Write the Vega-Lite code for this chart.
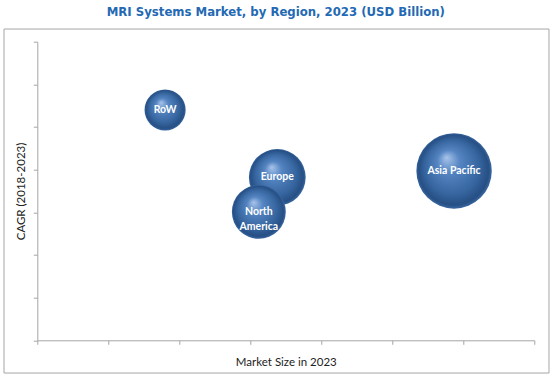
{
  "$schema": "https://vega.github.io/schema/vega-lite/v6.json",
  "width": 497,
  "height": 298.6,
  "autosize": {"type": "none"},
  "padding": {"left": 37.3, "top": 41.7, "right": 18.7, "bottom": 38.7},
  "background": "white",
  "title": {
    "text": "MRI Systems Market, by Region, 2023 (USD Billion)",
    "font": "DejaVu Sans Condensed, Roboto, sans-serif",
    "fontSize": 13,
    "fontWeight": "bold",
    "color": "#2369b3",
    "anchor": "middle",
    "dx": -10,
    "offset": 10
  },
  "config": {"view": {"stroke": null}},
  "data": {
    "values": [
      {"region": "RoW", "market": 1.80, "cagr": 5.40, "value": 1.385},
      {"region": "Europe", "market": 3.38, "cagr": 3.82, "value": 2.64},
      {"region": "North\nAmerica", "market": 3.12, "cagr": 3.01, "value": 2.38},
      {"region": "Asia Pacific", "market": 5.87, "cagr": 3.97, "value": 4.66}
    ]
  },
  "layer": [
    {
      "data": {"values": [{}]},
      "mark": {"type": "rect", "filled": false, "stroke": "#a6a6a6", "strokeWidth": 1, "clip": false},
      "encoding": {
        "x": {"datum": -0.469, "type": "quantitative"},
        "x2": {"datum": 7.207},
        "y": {"datum": 7.297, "type": "quantitative"},
        "y2": {"datum": -0.767}
      }
    },
    {
      "mark": {
        "type": "circle",
        "opacity": 1,
        "fill": {
          "gradient": "radial",
          "x1": 0.4, "y1": 0.32, "r1": 0,
          "x2": 0.5, "y2": 0.5, "r2": 0.5,
          "stops": [
            {"offset": 0, "color": "#a8c4ea"},
            {"offset": 0.3, "color": "#5585c2"},
            {"offset": 0.72, "color": "#36659f"},
            {"offset": 0.93, "color": "#264f84"},
            {"offset": 1, "color": "#3a68a2"}
          ]
        }
      },
      "encoding": {
        "x": {
          "field": "market",
          "type": "quantitative",
          "scale": {"domain": [0, 7], "nice": false, "zero": false},
          "axis": {
            "title": "Market Size in 2023",
            "values": [0, 1, 2, 3, 4, 5, 6, 7],
            "labels": false,
            "grid": false,
            "tickSize": 4,
            "domainColor": "#a6a6a6",
            "tickColor": "#a6a6a6",
            "titleFont": "Lato",
            "titleFontSize": 11.5,
            "titleFontWeight": "normal",
            "titleColor": "#222222",
            "titlePadding": 12
          }
        },
        "y": {
          "field": "cagr",
          "type": "quantitative",
          "scale": {"domain": [0, 7], "nice": false, "zero": false},
          "axis": {
            "title": "CAGR (2018-2023)",
            "values": [0, 1, 2, 3, 4, 5, 6, 7],
            "labels": false,
            "grid": false,
            "tickSize": 4,
            "domainColor": "#a6a6a6",
            "tickColor": "#a6a6a6",
            "titleFont": "Lato",
            "titleFontSize": 11.5,
            "titleFontWeight": "normal",
            "titleColor": "#222222",
            "titlePadding": 6
          }
        },
        "size": {
          "field": "value",
          "type": "quantitative",
          "scale": {"domain": [0, 5], "range": [0, 6100]},
          "legend": null
        }
      }
    },
    {
      "mark": {
        "type": "text",
        "color": "white",
        "font": "Lato",
        "fontSize": 10.5,
        "fontWeight": "bold",
        "lineBreak": "\n",
        "lineHeight": 15,
        "align": "center",
        "baseline": "middle"
      },
      "encoding": {
        "x": {"field": "market", "type": "quantitative"},
        "y": {"field": "cagr", "type": "quantitative"},
        "text": {"field": "region"}
      }
    }
  ]
}
